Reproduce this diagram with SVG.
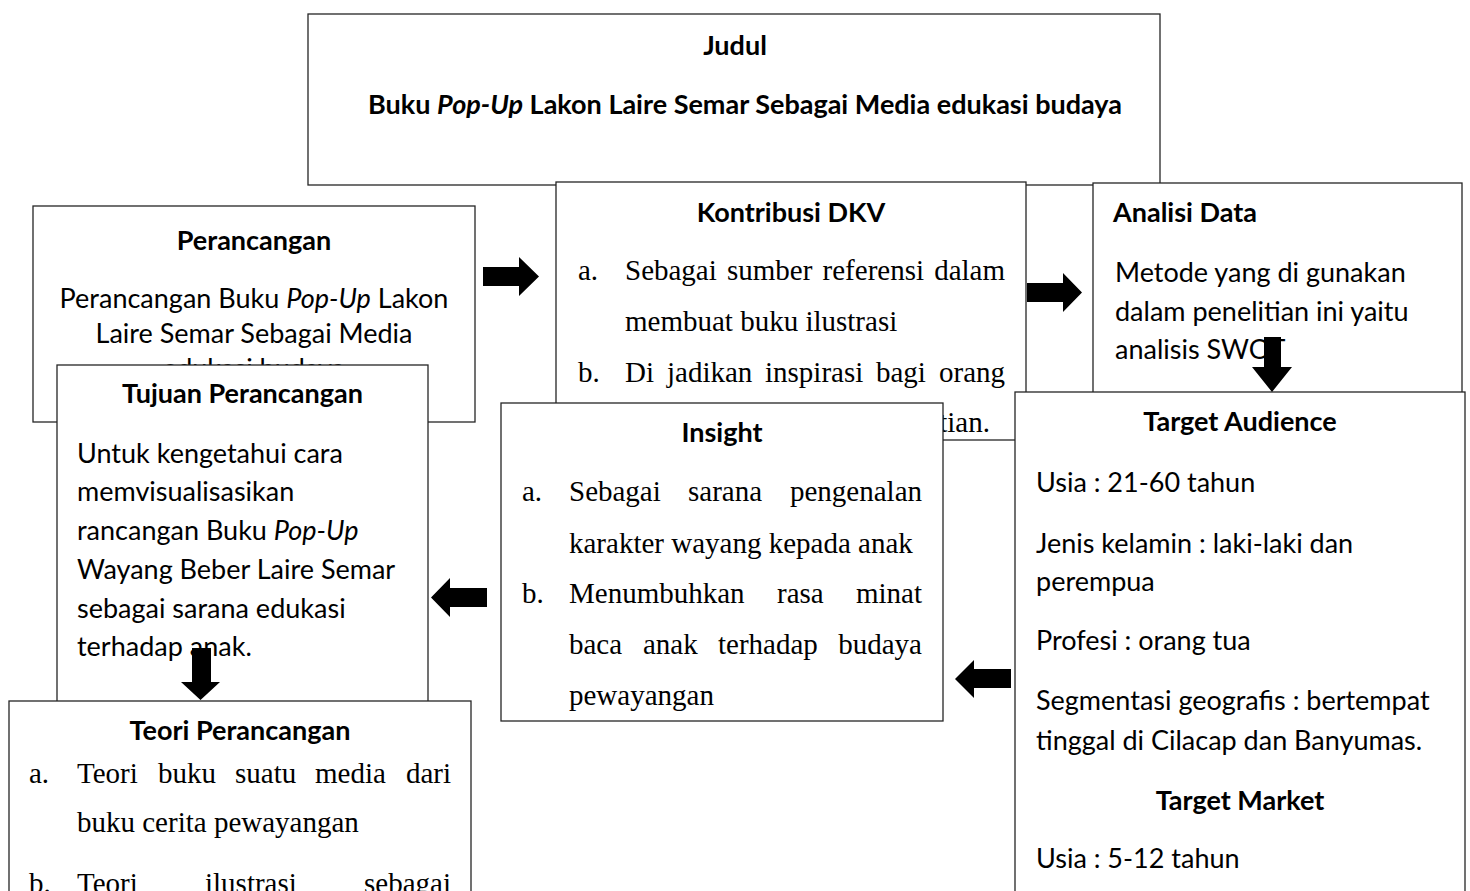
<svg xmlns="http://www.w3.org/2000/svg" width="1470" height="891" viewBox="0 0 1470 891">
<style>
.box{fill:#fff;stroke:#262626;stroke-width:1.3}
.c{font-family:Lato,"Open Sans",sans-serif;font-size:27px;fill:#000}
.b{font-weight:bold}
.i{font-style:italic}
.m{text-anchor:middle}
.e{text-anchor:end}
.t{font-family:"Liberation Serif","Times New Roman",serif;font-size:29px;fill:#000}
.arr{fill:#000;stroke:none}
</style>
<rect width="1470" height="891" fill="#fff"/>

<g id="judul">
<rect class="box" x="308" y="14" width="852" height="171"/>
<text class="c b m" x="735" y="55">Judul</text>
<text class="c b m" x="745" y="114">Buku <tspan class="i">Pop-Up</tspan> Lakon Laire Semar Sebagai Media edukasi budaya</text>
</g>

<g id="perancangan">
<rect class="box" x="33" y="206" width="442" height="216"/>
<text class="c b m" x="254" y="250">Perancangan</text>
<text class="c m" x="254" y="308">Perancangan Buku <tspan class="i">Pop-Up</tspan> Lakon</text>
<text class="c m" x="254" y="343">Laire Semar Sebagai Media</text>
<text class="c m" x="254" y="378">edukasi budaya</text>
</g>

<g id="kontribusi">
<rect class="box" x="556" y="182" width="470" height="258"/>
<text class="c b m" x="791" y="222">Kontribusi DKV</text>
<text class="t" y="280"><tspan x="578">a.</tspan><tspan x="625">Sebagai</tspan><tspan x="727">sumber</tspan><tspan x="822.6">referensi</tspan></text>
<text class="t e" x="1005" y="280">dalam</text>
<text class="t" x="625" y="331">membuat buku ilustrasi</text>
<text class="t" y="382"><tspan x="578">b.</tspan><tspan x="625">Di</tspan><tspan x="667">jadikan</tspan><tspan x="765">inspirasi</tspan><tspan x="876">bagi</tspan></text>
<text class="t e" x="1005" y="382">orang</text>
<text class="t e" x="990" y="432">melakukan penelitian.</text>
</g>

<g id="analisi">
<rect class="box" x="1093" y="183" width="369" height="220"/>
<text class="c b" x="1113" y="222">Analisi Data</text>
<text class="c" x="1115" y="282">Metode yang di gunakan</text>
<text class="c" x="1115" y="321">dalam penelitian ini yaitu</text>
<text class="c" x="1115" y="359">analisis SWOT</text>
</g>

<g id="tujuan">
<rect class="box" x="57" y="365" width="371" height="360"/>
<text class="c b m" x="242.5" y="403">Tujuan Perancangan</text>
<text class="c" x="77" y="463">Untuk kengetahui cara</text>
<text class="c" x="77" y="501">memvisualisasikan</text>
<text class="c" x="77" y="540">rancangan Buku <tspan class="i">Pop-Up</tspan></text>
<text class="c" x="77" y="579">Wayang Beber Laire Semar</text>
<text class="c" x="77" y="618">sebagai sarana edukasi</text>
<text class="c" x="77" y="656">terhadap anak.</text>
</g>

<g id="insight">
<rect class="box" x="501" y="403" width="442" height="318"/>
<text class="c b m" x="722" y="442">Insight</text>
<text class="t" y="501"><tspan x="522">a.</tspan><tspan x="569">Sebagai</tspan><tspan x="688">sarana</tspan></text>
<text class="t e" x="922" y="501">pengenalan</text>
<text class="t" x="569" y="553">karakter wayang kepada anak</text>
<text class="t" y="603"><tspan x="522">b.</tspan><tspan x="569">Menumbuhkan</tspan><tspan x="777">rasa</tspan></text>
<text class="t e" x="922" y="603">minat</text>
<text class="t" y="654"><tspan x="569">baca</tspan><tspan x="643">anak</tspan><tspan x="718">terhadap</tspan></text>
<text class="t e" x="922" y="654">budaya</text>
<text class="t" x="569" y="705">pewayangan</text>
</g>

<g id="target">
<rect class="box" x="1015" y="392" width="450" height="520"/>
<text class="c b m" x="1240" y="431">Target Audience</text>
<text class="c" x="1036" y="492">Usia : 21-60 tahun</text>
<text class="c" x="1036" y="553">Jenis kelamin : laki-laki dan</text>
<text class="c" x="1036" y="591">perempua</text>
<text class="c" x="1036" y="650">Profesi : orang tua</text>
<text class="c" x="1036" y="710">Segmentasi geografis : bertempat</text>
<text class="c" x="1036" y="750">tinggal di Cilacap dan Banyumas.</text>
<text class="c b m" x="1240" y="810">Target Market</text>
<text class="c" x="1036" y="868">Usia : 5-12 tahun</text>
</g>

<g id="teori">
<rect class="box" x="9" y="701" width="462" height="220"/>
<text class="c b m" x="240" y="740">Teori Perancangan</text>
<text class="t" y="783"><tspan x="29">a.</tspan><tspan x="77">Teori</tspan><tspan x="158">buku</tspan><tspan x="235">suatu</tspan><tspan x="315">media</tspan></text>
<text class="t e" x="451" y="783">dari</text>
<text class="t" x="77" y="832">buku cerita pewayangan</text>
<text class="t" y="893"><tspan x="29">b.</tspan><tspan x="77">Teori</tspan><tspan x="205">ilustrasi</tspan></text>
<text class="t e" x="451" y="893">sebagai</text>
</g>

<g id="connectors">
<path class="arr" d="M483,267 H519 V257 L539,276.5 L519,296 V286 H483 Z"/>
<path class="arr" d="M1027,283 H1063 V273 L1082,292.5 L1063,312 V302 H1027 Z"/>
<path class="arr" d="M1264,337 H1281 V367 H1292 L1272,392 L1252,367 H1264 Z"/>
<path class="arr" d="M487,588 H450 V578 L431,597.5 L450,617 V607 H487 Z"/>
<path class="arr" d="M1011,669 H974 V660 L955,679 L974,698 V688 H1011 Z"/>
<path class="arr" d="M192,648 H211 V682 H220 L200.5,700 L181,682 H192 Z"/>
</g>
</svg>
